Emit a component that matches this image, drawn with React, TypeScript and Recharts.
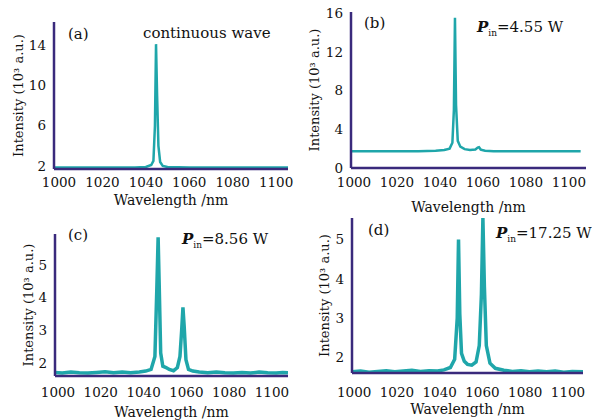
import React from 'react';
import { LineChart, Line, XAxis, YAxis, Label } from 'recharts';

// (a) continuous wave
const wlA = [997.7, 1005, 1015, 1025, 1035, 1040, 1042.5, 1043.5, 1044.2, 1044.7, 1045.2, 1045.8, 1046.6, 1047.8, 1050, 1060, 1075, 1090, 1105.5];
const intA = [1.85, 1.85, 1.85, 1.85, 1.85, 1.9, 2.1, 2.5, 6, 14.1, 9, 4, 2.4, 2.0, 1.9, 1.85, 1.85, 1.85, 1.85];

// (b) Pin = 4.55 W
const wlB = [998.6, 1010, 1020, 1030, 1038, 1042, 1044.5, 1045.8, 1046.5, 1047, 1047.5, 1048.3, 1049.5, 1051.5, 1054, 1056.5, 1057.6, 1058.2, 1059, 1061, 1065, 1075, 1090, 1105.5];
const intB = [1.72, 1.72, 1.72, 1.74, 1.78, 1.85, 2.0, 2.6, 6, 15.5, 6.5, 2.8, 2.2, 1.95, 1.85, 1.9, 2.1, 2.15, 1.9, 1.78, 1.74, 1.72, 1.72, 1.72];

// (c) Pin = 8.56 W
const wlC = [998.6, 1002, 1006, 1010, 1014, 1018, 1022, 1026, 1030, 1034, 1038, 1041, 1043.5, 1045.3, 1046.2, 1046.8, 1047.3, 1048, 1049, 1050.5, 1052, 1054, 1055.8, 1057, 1057.8, 1058.4, 1059, 1059.8, 1061, 1063, 1066, 1070, 1074, 1078, 1082, 1086, 1090, 1094, 1098, 1102, 1105, 1107.5];
const intC = [1.71, 1.69, 1.72, 1.7, 1.69, 1.71, 1.73, 1.7, 1.72, 1.7, 1.72, 1.75, 1.8, 2.2, 4.3, 5.85, 4.4, 2.3, 1.9, 1.86, 1.8, 1.76, 1.86, 2.2, 3.0, 3.7, 3.1, 2.1, 1.8, 1.75, 1.72, 1.7, 1.72, 1.7, 1.69, 1.71, 1.69, 1.72, 1.7, 1.69, 1.71, 1.7];

// (d) Pin = 17.25 W
const wlD = [999, 1003, 1007, 1011, 1015, 1019, 1023, 1027, 1031, 1035, 1039, 1042, 1045, 1047, 1048.2, 1048.8, 1049.4, 1050.2, 1051.5, 1053, 1055, 1057, 1058.5, 1059.5, 1060.2, 1060.9, 1061.8, 1063.5, 1066, 1070, 1074, 1078, 1082, 1086, 1090, 1094, 1098, 1102, 1107];
const intD = [1.63, 1.65, 1.62, 1.64, 1.66, 1.63, 1.65, 1.67, 1.64, 1.66, 1.65, 1.68, 1.74, 1.95, 3.0, 5.0, 3.1, 2.1, 1.9, 1.82, 1.8, 1.88, 2.3, 3.6, 5.55, 3.8, 2.3, 1.85, 1.72, 1.67, 1.64, 1.66, 1.63, 1.65, 1.63, 1.65, 1.62, 1.64, 1.63];

const xTicks = [1000, 1020, 1040, 1060, 1080, 1100];
const yTicksA = [2, 6, 10, 14];
const yTicksB = [0, 4, 8, 12, 16];
const yTicksCD = [2, 3, 4, 5];

const zip = (w: number[], v: number[]) => w.map((x, i) => ({ w: x, v: v[i] }));

const PURPLE = '#3a2a7c';
const TEAL = '#1fa6aa';
const INK = '#111';
const FONT = '"DejaVu Serif", serif';

type PanelProps = {
  data: { w: number; v: number }[];
  left: number;
  top: number;
  height: number;
  plotLeft: number;
  plotRight: number;
  plotTop: number;
  plotBottom: number;
  xDomain: [number, number];
  yDomain: [number, number];
  yTicks: number[];
  tickMargin: number;
  xLabelOffset: number;
  yLabelOffset: number;
  noisy?: boolean;
};

function Panel(p: PanelProps) {
  const width = 296;
  return (
    <div style={{ position: 'absolute', left: p.left, top: p.top }}>
      <LineChart
        width={width}
        height={p.height}
        data={p.data}
        margin={{ top: p.plotTop, right: width - p.plotRight, left: p.plotLeft - 40, bottom: 0 }}
      >
        <XAxis
          dataKey="w"
          type="number"
          domain={p.xDomain}
          ticks={xTicks}
          interval={0}
          allowDataOverflow
          height={p.height - p.plotBottom}
          tickLine={false}
          tickSize={6}
          tickMargin={p.tickMargin}
          axisLine={{ stroke: PURPLE, strokeWidth: 2.5 }}
          tick={{ fill: INK, fontSize: 13.5, fontFamily: FONT }}
        >
          <Label
            value="Wavelength /nm"
            position="insideBottom"
            offset={p.xLabelOffset}
            style={{ fill: INK, fontSize: 14, fontFamily: FONT }}
          />
        </XAxis>
        <YAxis
          type="number"
          domain={p.yDomain}
          ticks={p.yTicks}
          interval={0}
          allowDataOverflow
          width={40}
          tickLine={false}
          tickSize={6}
          tickMargin={2}
          axisLine={{ stroke: PURPLE, strokeWidth: 2.5 }}
          tick={{ fill: INK, fontSize: 13.5, fontFamily: FONT }}
        >
          <Label
            value="Intensity (10³ a.u.)"
            angle={-90}
            position="insideLeft"
            offset={p.yLabelOffset}
            style={{ fill: INK, fontSize: 13, fontFamily: FONT, textAnchor: 'middle' }}
          />
        </YAxis>
        <Line
          type="linear"
          dataKey="v"
          stroke={TEAL}
          strokeWidth={p.noisy ? 3.5 : 2.5}
          dot={false}
          isAnimationActive={false}
        />
      </LineChart>
    </div>
  );
}

const note: React.CSSProperties = {
  position: 'absolute',
  fontFamily: FONT,
  fontSize: 15,
  lineHeight: '16px',
  color: INK,
  whiteSpace: 'nowrap',
};

function Pin({ x, y, value }: { x: number; y: number; value: string }) {
  return (
    <div style={{ ...note, left: x, top: y }}>
      <i style={{ fontWeight: 'bold' }}>P</i>
      <sub style={{ fontSize: 9 }}>in</sub>={value}
    </div>
  );
}

export default function App() {
  return (
    <div style={{ position: 'absolute', left: 0, top: 0, width: 592, height: 420, background: '#fff', overflow: 'hidden' }}>
      <Panel
        data={zip(wlA, intA)}
        left={0}
        top={0}
        height={210}
        plotLeft={54}
        plotRight={288}
        plotTop={22}
        plotBottom={169}
        xDomain={[997.7, 1105.5]}
        yDomain={[1.7, 16.3]}
        yTicks={yTicksA}
        tickMargin={2}
        xLabelOffset={5}
        yLabelOffset={4}
      />
      <Panel
        data={zip(wlB, intB)}
        left={296}
        top={0}
        height={215}
        plotLeft={55}
        plotRight={290}
        plotTop={12}
        plotBottom={168}
        xDomain={[998.6, 1108]}
        yDomain={[0, 16.1]}
        yTicks={yTicksB}
        tickMargin={3}
        xLabelOffset={3}
        yLabelOffset={3}
      />
      <Panel
        data={zip(wlC, intC)}
        left={0}
        top={210}
        height={210}
        plotLeft={55}
        plotRight={288}
        plotTop={24}
        plotBottom={166}
        xDomain={[998.6, 1107.5]}
        yDomain={[1.6, 5.95]}
        yTicks={yTicksCD}
        tickMargin={5}
        xLabelOffset={3}
        yLabelOffset={13}
        noisy
      />
      <Panel
        data={zip(wlD, intD)}
        left={296}
        top={210}
        height={210}
        plotLeft={56}
        plotRight={287}
        plotTop={8}
        plotBottom={163}
        xDomain={[999, 1107]}
        yDomain={[1.6, 5.55]}
        yTicks={yTicksCD}
        tickMargin={8}
        xLabelOffset={6}
        yLabelOffset={12}
        noisy
      />
      <div style={{ ...note, left: 68, top: 26 }}>(a)</div>
      <div style={{ ...note, left: 143, top: 25 }}>continuous wave</div>
      <div style={{ ...note, left: 364, top: 15 }}>(b)</div>
      <Pin x={477} y={19} value="4.55 W" />
      <div style={{ ...note, left: 68, top: 227 }}>(c)</div>
      <Pin x={182} y={231} value="8.56 W" />
      <div style={{ ...note, left: 368, top: 222 }}>(d)</div>
      <Pin x={496} y={225} value="17.25 W" />
    </div>
  );
}
